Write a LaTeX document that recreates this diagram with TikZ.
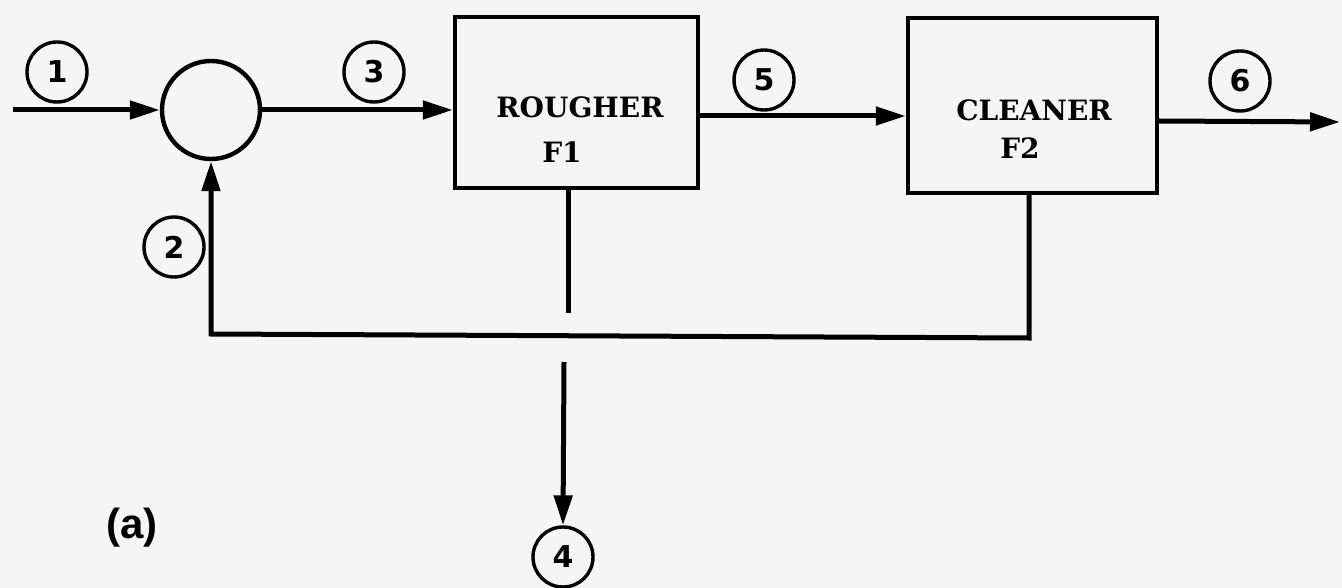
\documentclass[tikz,border=0pt]{standalone}
\usepackage{fontspec}
\usetikzlibrary{arrows.meta}
\newfontfamily\boxfont{DejaVu Serif}
\newfontfamily\numfont{DejaVu Sans}
\newfontfamily\capfont{Liberation Sans}
\definecolor{bg}{HTML}{F5F5F5}
\tikzset{
  flow/.style={line width=2.5pt, line join=miter},
  arr/.style={flow, -{Triangle[length=15pt,width=9pt]}},
  numlabel/.style={circle, draw, line width=1.7pt, minimum size=30pt, inner sep=0pt,
    font=\numfont\bfseries\fontsize{15pt}{15pt}\selectfont},
  mixer/.style={circle, draw, line width=2.2pt, minimum size=49pt, inner sep=0pt},
  unitbox/.style={draw, line width=2.2pt, inner sep=0pt},
  unittext/.style={font=\boxfont\bfseries\fontsize{14pt}{14pt}\selectfont, inner sep=0pt},
  caption/.style={font=\capfont\bfseries\fontsize{21pt}{21pt}\selectfont, inner sep=0pt}
}
\begin{document}
\begin{tikzpicture}[x=0.5pt,y=-0.5pt]
  \fill[bg] (0,0) rectangle (1342,588);
  \useasboundingbox (0,0) rectangle (1342,588);

  % units
  \node[mixer] (mix) at (211,110) {};
  \node[unitbox, minimum width=121.5pt, minimum height=85.5pt] (rough) at (576.5,102.5) {};
  \node[unitbox, minimum width=124.5pt, minimum height=87.5pt] (clean) at (1032.5,105.5) {};

  \node[unittext] (rtxt) at (580,107) {ROUGHER};
  \node[unittext] (rf) at (562,152) {F1};
  \node[unittext] (ctxt) at (1034,110) {CLEANER};
  \node[unittext] (cf) at (1020,148) {F2};

  % stream labels
  \node[numlabel] (n1) at (57,72) {1};
  \node[numlabel] (n2) at (174,247) {2};
  \node[numlabel] (n3) at (374,72) {3};
  \node[numlabel] (n5) at (764,80) {5};
  \node[numlabel] (n6) at (1240,81) {6};
  \node[numlabel] (n4) at (563,557) {4};

  \node[caption] (cap) at (132,528) {(a)};

  % free ends and junctions
  \coordinate (in) at (13,110);
  \coordinate (out) at (1340,122);
  \coordinate (j1) at (211,334);
  \coordinate (j2) at (1029,338);
  \coordinate (stub) at (568,313);
  \coordinate (tail) at (564,362);

  % connectors
  \draw[arr] (in) -- (mix);
  \draw[arr] (mix.east) -- (mix.east -| rough.west);
  \draw[arr] (rough.east |- 0,116) -- (clean.west |- 0,116);
  \draw[arr] (clean.east |- 0,121) -- (out);
  \draw[arr] (j2 |- clean.south) -- (j2) -- (j1) -- (mix.south);
  \draw[flow] (stub |- rough.south) -- (stub);
  \draw[arr] (tail) -- (n4.north);
\end{tikzpicture}
\end{document}
